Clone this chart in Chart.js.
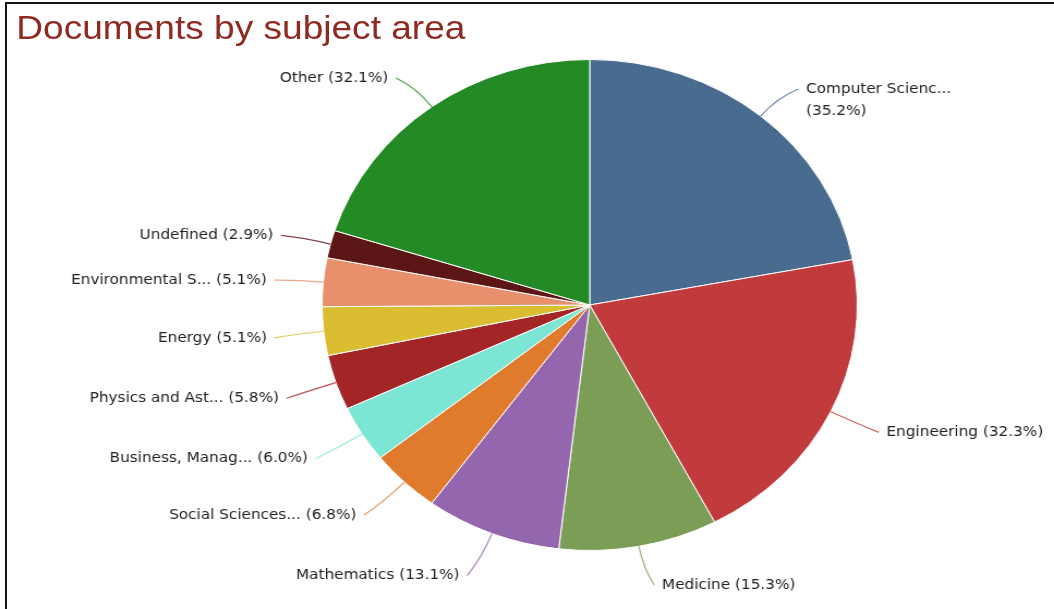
<!DOCTYPE html>
<html>
<head>
<meta charset="utf-8">
<title>Documents by subject area</title>
<script src="https://cdn.jsdelivr.net/npm/chart.js@4.4.1/dist/chart.umd.min.js"></script>
<style>
    html, body {
        margin: 0;
        padding: 0;
        background: #ffffff;
        width: 1054px;
        height: 609px;
        overflow: hidden;
    }
    #frame {
        position: absolute;
        left: 5px;
        top: 2px;
        width: 1049px;
        height: 607px;
        border-left: 2px solid #111111;
        border-top: 2px solid #111111;
        pointer-events: none;
    }
    /* the panel is drawn a little narrower, then widened to fill the frame */
    #stage {
        position: absolute;
        left: 0;
        top: 0;
        width: 967px;
        height: 609px;
        transform: scaleX(1.09);
        transform-origin: 0 0;
    }
    #chartTitle {
        position: absolute;
        left: 15px;
        top: 8px;
        font-family: "Liberation Sans", Arial, sans-serif;
        font-size: 34px;
        color: #8e2a21;
        white-space: nowrap;
    }
    #subjectChart {
        position: absolute;
        left: 0;
        top: 0;
    }
</style>
</head>
<body>
<div id="stage">
    <div id="chartTitle">Documents by subject area</div>
    <canvas id="subjectChart" width="967" height="609"></canvas>
</div>
<div id="frame"></div>

<script>
const subjects = [
    'Computer Scienc...',
    'Engineering',
    'Medicine',
    'Mathematics',
    'Social Sciences...',
    'Business, Manag...',
    'Physics and Ast...',
    'Energy',
    'Environmental S...',
    'Undefined',
    'Other'
];
const shares = [35.2, 32.3, 15.3, 13.1, 6.8, 6.0, 5.8, 5.1, 5.1, 2.9, 32.1];
const sliceColors = [
    '#4a6b90', // computer science
    '#c13b3d', // engineering
    '#7c9d55', // medicine
    '#9466ae', // mathematics
    '#e07a2d', // social sciences
    '#7de5d3', // business
    '#a42525', // physics
    '#dbbd31', // energy
    '#e8906c', // environmental
    '#5c1616', // undefined
    '#248a25'  // other
];

// Draws "name (xx.x%)" outside each slice with a soft connector line back to the edge
const outsideLabels = {
    id: 'outsideLabels',
    afterDatasetsDraw(chart) {
        const ctx = chart.ctx;
        const meta = chart.getDatasetMeta(0);
        const area = chart.chartArea;
        const lineHeight = 22;
        const maxLabelWidth = 192;

        ctx.save();
        ctx.font = '14px "DejaVu Sans", Verdana, sans-serif';
        ctx.textBaseline = 'middle';

        meta.data.forEach((arc, i) => {
            const p = arc.getProps(['x', 'y', 'startAngle', 'endAngle', 'outerRadius'], true);
            const mid = (p.startAngle + p.endAngle) / 2;
            const cos = Math.cos(mid);
            const sin = Math.sin(mid);
            const side = cos >= 0 ? 1 : -1;
            const r = p.outerRadius;

            const edgeX = p.x + cos * r;
            const edgeY = p.y + sin * r;

            const name = subjects[i];
            const pct = '(' + shares[i].toFixed(1) + '%)';
            let lines = [name + ' ' + pct];
            if (ctx.measureText(lines[0]).width > maxLabelWidth) {
                lines = [name, pct];
            }

            // horizontal anchor of the label's near end
            const textX = p.x + side * ((r + 51) * Math.abs(cos) + 12 * Math.abs(sin));

            let labelY = p.y + sin * (r + 43) + 2;
            labelY = Math.max(labelY, area.top + 19 + (lines.length - 1) * 11);
            labelY = Math.min(labelY, chart.height - 24);

            // connector
            const endX = textX - side * 7;
            const dist = Math.hypot(endX - edgeX, labelY - edgeY);
            const ctrlX = p.x + cos * (r + dist * 0.55);
            const ctrlY = p.y + sin * (r + dist * 0.55);
            ctx.strokeStyle = sliceColors[i];
            ctx.globalAlpha = 0.8;
            ctx.lineWidth = 1.2;
            ctx.beginPath();
            ctx.moveTo(edgeX, edgeY);
            ctx.quadraticCurveTo(ctrlX, ctrlY, endX, labelY);
            ctx.stroke();
            ctx.globalAlpha = 1;

            ctx.fillStyle = '#222222';
            ctx.textAlign = side > 0 ? 'left' : 'right';
            lines.forEach((line, k) => {
                ctx.fillText(line, textX, labelY + k * lineHeight);
            });
        });
        ctx.restore();
    }
};

const ctx = document.getElementById('subjectChart').getContext('2d');
const subjectChart = new Chart(ctx, {
    type: 'pie',
    data: {
        labels: subjects,
        datasets: [{
            data: shares,
            backgroundColor: sliceColors,
            borderColor: '#ffffff',
            borderWidth: 1
        }]
    },
    options: {
        responsive: false,
        animation: false,
        events: [],
        layout: {
            padding: { left: 295, right: 180, top: 59, bottom: 58 }
        },
        plugins: {
            legend: { display: false },
            tooltip: { enabled: false },
            title: { display: false }
        }
    },
    plugins: [outsideLabels]
});
</script>
</body>
</html>
